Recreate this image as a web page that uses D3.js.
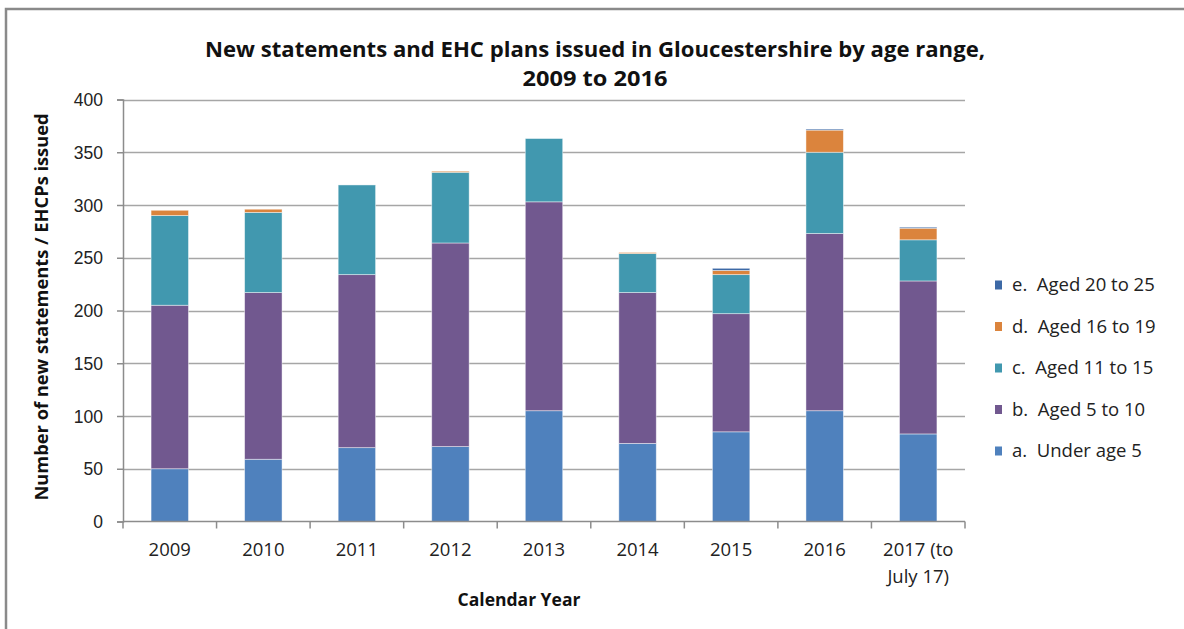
<!DOCTYPE html>
<html>
<head>
<meta charset="utf-8">
<script src="https://cdn.jsdelivr.net/npm/d3@7"></script>
<style>
  html, body { margin: 0; padding: 0; background: #fff; }
  svg { display: block; font-family: "Open Sans", Lato, sans-serif; }
</style>
</head>
<body>
<svg id="chart" width="1184" height="629"></svg>
<script>
// Calendar years (last one is a part year, split over two lines)
const years = ["2009", "2010", "2011", "2012", "2013", "2014", "2015", "2016", "2017 (to July 17)"];
const yearLines = [["2009"], ["2010"], ["2011"], ["2012"], ["2013"], ["2014"], ["2015"], ["2016"], ["2017 (to", "July 17)"]];

// New statements / EHC plans by age range
const underFive        = [50, 59, 70, 71, 105, 74, 85, 105, 83];
const fiveToTen        = [155, 158, 164, 193, 198, 143, 112, 168, 145];
const elevenToFifteen  = [85, 76, 85, 67, 60, 37, 37, 77, 39];
const sixteenToNineteen = [5, 3, 0, 1, 0, 1, 4, 21, 11];
const twentyToTwentyFive = [0, 0, 0, 0, 0, 0, 2, 1, 1];

const seriesNames = ["a.  Under age 5", "b.  Aged 5 to 10", "c.  Aged 11 to 15", "d.  Aged 16 to 19", "e.  Aged 20 to 25"];
const seriesColors = ["#4f81bd", "#71588f", "#4198af", "#db843d", "#3d69a6"];
const yTicks = [0, 50, 100, 150, 200, 250, 300, 350, 400];

const seriesValues = [underFive, fiveToTen, elevenToFifteen, sixteenToNineteen, twentyToTwentyFive];
const rows = years.map((y, i) => {
  const r = { year: y };
  seriesNames.forEach((s, k) => { r[s] = seriesValues[k][i]; });
  return r;
});

const svg = d3.select("#chart");

// chart frame (top and left edges)
svg.append("path")
  .attr("d", "M6,1184 V9 H1184")
  .attr("fill", "none").attr("stroke", "#8a8a8a").attr("stroke-width", 2.5);

const plot = { left: 123, right: 965, top: 99.5, bottom: 521.5 };

const x = d3.scaleBand().domain(years).range([plot.left, plot.right]).paddingInner(0.6).paddingOuter(0.3);
const xOuter = d3.scaleBand().domain(years).range([plot.left, plot.right]);
const y = d3.scaleLinear().domain([0, 400]).range([plot.bottom, plot.top]);

// horizontal gridlines
svg.append("g").selectAll("line").data(yTicks.filter(t => t > 0)).join("line")
  .attr("x1", plot.left).attr("x2", plot.right)
  .attr("y1", d => Math.round(y(d)) + 0.5).attr("y2", d => Math.round(y(d)) + 0.5)
  .attr("stroke", "#a6a6a6").attr("stroke-width", 1.5);

// stacked bars
const stack = d3.stack().keys(seriesNames)(rows);
svg.append("g").selectAll("g").data(stack).join("g")
  .attr("fill", (d, i) => seriesColors[i])
  .selectAll("rect").data(d => d.filter(p => p[1] > p[0])).join("rect")
  .attr("x", d => x(d.data.year))
  .attr("width", x.bandwidth())
  .attr("y", d => y(d[1]))
  .attr("height", d => y(d[0]) - y(d[1]))
  .attr("stroke", "rgba(255,255,255,0.55)").attr("stroke-width", 0.8);

// y axis
const yAxis = d3.axisLeft(y).tickValues(yTicks).tickSize(6).tickPadding(14);
const gy = svg.append("g").attr("transform", `translate(${plot.left},0)`).call(yAxis);
gy.select(".domain").attr("stroke", "#8c8c8c").attr("stroke-width", 1.5);
gy.selectAll(".tick line").attr("stroke", "#8c8c8c").attr("stroke-width", 1.5);
gy.selectAll(".tick text").attr("font-size", 17.5).attr("fill", "#222").attr("font-family", null).attr("dy", "0.35em");

// x axis: baseline with ticks at category boundaries
const gx = svg.append("g");
gx.append("line").attr("x1", plot.left).attr("x2", plot.right)
  .attr("y1", plot.bottom).attr("y2", plot.bottom)
  .attr("stroke", "#8c8c8c").attr("stroke-width", 1.5);
const bounds = years.map(yv => xOuter(yv)).concat([plot.right]);
gx.selectAll("line.tk").data(bounds).join("line").attr("class", "tk")
  .attr("x1", d => d).attr("x2", d => d)
  .attr("y1", plot.bottom).attr("y2", plot.bottom + 7)
  .attr("stroke", "#8c8c8c").attr("stroke-width", 1.5);
const xl = gx.selectAll("text").data(years).join("text")
  .attr("text-anchor", "middle").attr("font-size", 18.5).attr("fill", "#222")
  .attr("x", d => xOuter(d) + xOuter.bandwidth() / 2)
  .attr("y", 556);
xl.each(function (d, i) {
  d3.select(this).selectAll("tspan").data(yearLines[i]).join("tspan")
    .attr("x", xOuter(d) + xOuter.bandwidth() / 2)
    .attr("dy", (t, j) => j === 0 ? 0 : 27)
    .text(t => t);
});

// axis titles
svg.append("text").attr("x", 519).attr("y", 606).attr("text-anchor", "middle")
  .attr("font-size", 17.5).attr("font-weight", "bold").attr("fill", "#111").text("Calendar Year");
svg.append("text").attr("transform", "translate(48,307) rotate(-90)").attr("text-anchor", "middle")
  .attr("font-size", 17.5).attr("font-weight", "bold").attr("fill", "#111")
  .attr("textLength", 387).attr("lengthAdjust", "spacingAndGlyphs")
  .text("Number of new statements / EHCPs issued");

// title
const title = svg.append("text").attr("text-anchor", "middle").attr("font-size", 21)
  .attr("font-weight", "bold").attr("fill", "#111");
title.append("tspan").attr("x", 595).attr("y", 57)
  .attr("textLength", 780).attr("lengthAdjust", "spacingAndGlyphs")
  .text("New statements and EHC plans issued in Gloucestershire by age range,");
title.append("tspan").attr("x", 595).attr("y", 86)
  .attr("textLength", 145).attr("lengthAdjust", "spacingAndGlyphs")
  .text("2009 to 2016");

// legend (reverse order, top to bottom)
const legendOrder = seriesNames.map((n, i) => i).reverse();
const lg = svg.append("g").selectAll("g").data(legendOrder).join("g")
  .attr("transform", (d, i) => `translate(995,${285 + i * 41.5})`);
lg.append("rect").attr("x", 0).attr("y", -4.5).attr("width", 7).attr("height", 9)
  .attr("fill", d => seriesColors[d]);
lg.append("text").attr("x", 17).attr("y", 6).attr("font-size", 18.5).attr("fill", "#222")
  .attr("xml:space", "preserve").text(d => seriesNames[d]);
</script>
</body>
</html>
